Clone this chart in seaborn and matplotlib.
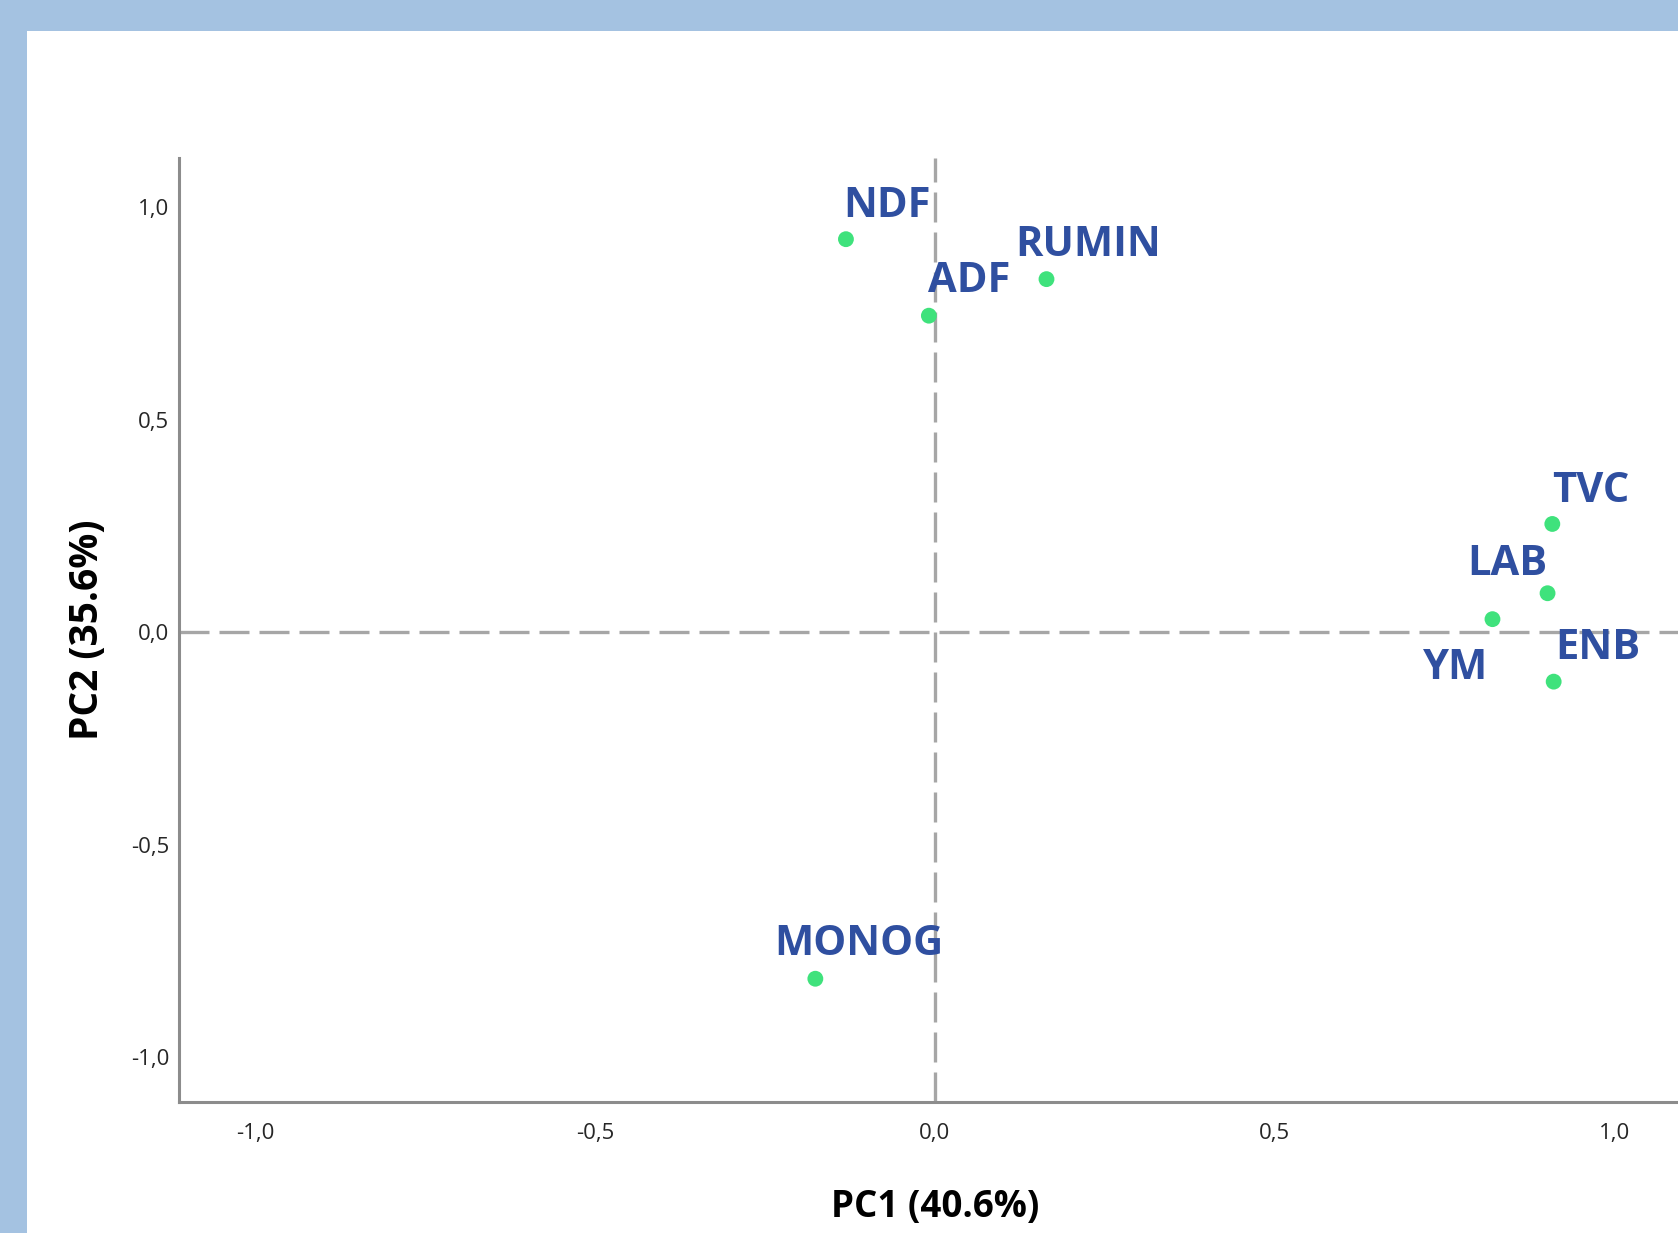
import matplotlib
matplotlib.use("Agg")
import matplotlib.pyplot as plt
import seaborn as sns
import pandas as pd
from matplotlib.patches import Rectangle

# Component loadings of each variable on PC1 / PC2
variables = ["NDF", "ADF", "RUMIN", "MONOG", "TVC", "LAB", "YM", "ENB"]
pc1 = [-0.131, -0.009, 0.164, -0.176, 0.908, 0.901, 0.820, 0.910]
pc2 = [0.925, 0.745, 0.831, -0.815, 0.255, 0.092, 0.031, -0.116]

x_ticks = [-1.0, -0.5, 0.0, 0.5, 1.0]
y_ticks = [-1.0, -0.5, 0.0, 0.5, 1.0]
x_label = "PC1 (40.6%)"
y_label = "PC2 (35.6%)"

# label placement relative to each point (pixels)
label_offsets = {
    "NDF": (-3, 22), "ADF": (-1, 24), "RUMIN": (-31, 23), "MONOG": (-41, 24),
    "TVC": (0, 22), "LAB": (-80, 18), "YM": (-69, -60), "ENB": (2, 23),
}

df = pd.DataFrame({"variable": variables, "PC1": pc1, "PC2": pc2})

sns.set_theme(style="white")
plt.rcParams["font.family"] = ["Open Sans", "DejaVu Sans"]

W, H = 1678, 1233
fig = plt.figure(figsize=(W / 100, H / 100), dpi=100)
fig.patch.set_facecolor("#A4C2E1")
fig.patches.append(Rectangle((27 / W, 0), 1, 1 - 31 / H, transform=fig.transFigure,
                             facecolor="white", edgecolor="none", zorder=-5))

left, right, top, bottom = 179, 1691, 158, 1102
ax = fig.add_axes([left / W, 1 - bottom / H, (right - left) / W, (bottom - top) / H])
ax.set_facecolor("none")

ax.axhline(0, color="#A6A6A6", lw=2.4, dashes=(9, 3), zorder=1)
ax.axvline(0, color="#A6A6A6", lw=2.4, dashes=(9, 3), zorder=1)

sns.scatterplot(data=df, x="PC1", y="PC2", ax=ax, color="#3FE27C", s=130,
                edgecolor="none", zorder=3, legend=False)

for name, x, y in zip(variables, pc1, pc2):
    dx, dy = label_offsets[name]
    ax.annotate(name, (x, y), xytext=(dx, dy), textcoords="offset pixels",
                ha="left", va="baseline", fontsize=30, fontweight="bold",
                color="#2F4FA0", zorder=4)

ax.set_xlim(-1.112, 1.112)
ax.set_ylim(-1.105, 1.116)
ax.set_xticks(x_ticks)
ax.set_yticks(y_ticks)
ax.set_xticklabels([f"{v:.1f}".replace(".", ",") for v in x_ticks])
ax.set_yticklabels([f"{v:.1f}".replace(".", ",") for v in y_ticks])
ax.tick_params(axis="both", length=0, labelsize=16, labelcolor="#262626")
ax.tick_params(axis="x", pad=15)
ax.tick_params(axis="y", pad=7)

for side in ["top", "right"]:
    ax.spines[side].set_visible(False)
for side in ["left", "bottom"]:
    ax.spines[side].set_color("#8C8C8C")
    ax.spines[side].set_linewidth(2.2)

ax.set_xlabel(x_label, fontsize=26.5, fontweight="bold", color="black", labelpad=32)
ax.set_ylabel(y_label, fontsize=28, fontweight="bold", color="black", labelpad=17)

fig.savefig("out.png", dpi=100)
